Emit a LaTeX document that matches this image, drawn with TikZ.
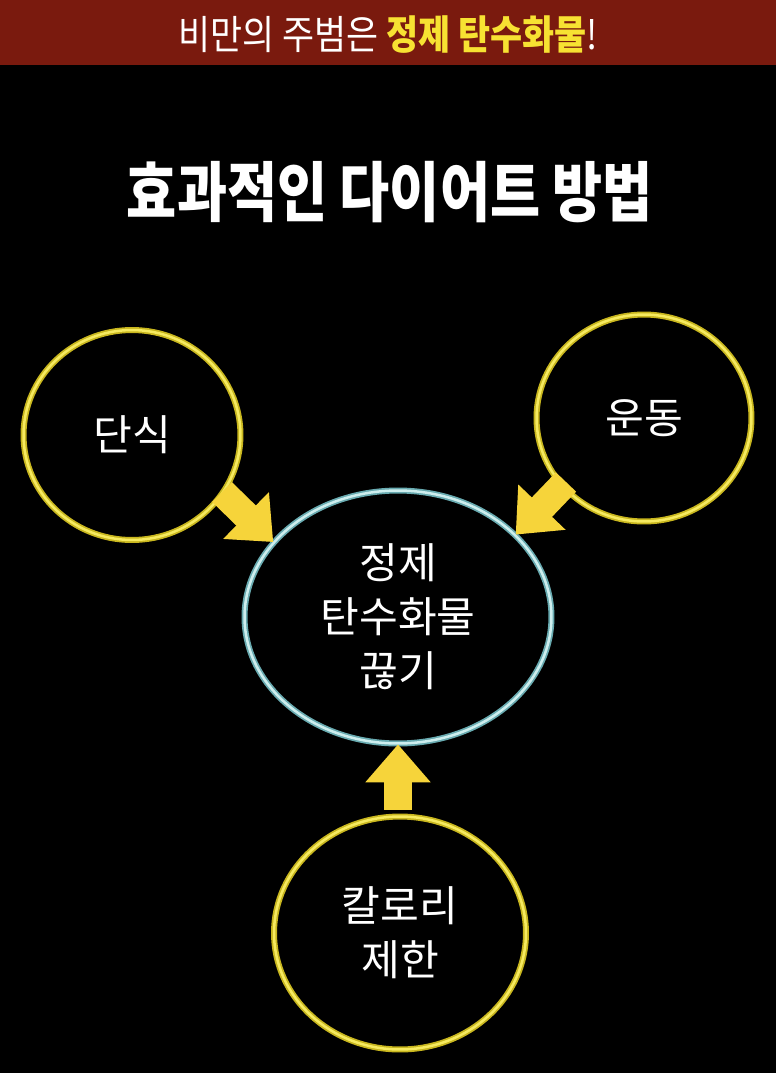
\documentclass[tikz,border=0pt]{standalone}
\usepackage{fontspec}
\setmainfont{Noto Sans CJK KR}
\usetikzlibrary{shapes.geometric, arrows.meta}
\definecolor{bannerred}{RGB}{122,26,14}
\definecolor{titleyellow}{RGB}{247,226,50}
\definecolor{ringyellow}{RGB}{200,182,30}
\definecolor{ringlight}{RGB}{246,234,96}
\definecolor{arrowyellow}{RGB}{246,212,58}
\definecolor{ringteal}{RGB}{104,170,176}
\definecolor{teallight}{RGB}{206,238,238}
\tikzstyle{way} = [ellipse, inner sep=0pt, draw=ringyellow, line width=0.035cm, double=ringlight, double distance=0.05cm, text=white, font=\fontsize{24}{30.7}\selectfont, align=center]
\tikzstyle{goal} = [ellipse, inner sep=0pt, draw=ringteal, line width=0.035cm, double=teallight, double distance=0.05cm, text=white, font=\fontsize{24}{30.7}\selectfont, align=center]
\tikzstyle{arrow} = [arrowyellow, line width=0.56cm, -{Triangle[width=1.26cm, length=0.76cm]}]
\begin{document}
\begin{tikzpicture}[x=0.02cm, y=-0.02cm]

% background and banner
\fill[black] (0,0) rectangle (776,1073);
\fill[bannerred] (0,0) rectangle (776,65);
\node (banner) at (388,35) [xscale=0.87] {\fontsize{22.8}{26}\selectfont\color{white}비만의 주범은 \textcolor{titleyellow}{\bfseries 정제 탄수화물}!};

\node (title) at (390,192) [text=white, yscale=1.2] {\fontsize{31}{36}\selectfont\bfseries 효과적인 다이어트 방법};

% Main goal
\node (center) [goal, minimum width=6.14cm, minimum height=5.06cm] at (398,617) {정제\\탄수화물\\끊기};

% Ways
\node (dansik) [way, minimum width=4.34cm, minimum height=4.2cm] at (132,435) {단식};
\node (undong) [way, minimum width=4.3cm, minimum height=4.14cm] at (644,418) {운동};
\node (kalori) [way, minimum width=5.04cm, minimum height=4.66cm] at (400,933) {칼로리\\제한};

\coordinate (dansikTail) at (222,492);
\coordinate (undongTail) at (566,482);

\draw[arrow] (dansikTail) -- (center.149);
\draw[arrow] (undongTail) -- (center.35);
\draw[arrow, shorten <=0.12cm] (kalori.north -| center.south) -- (center.south);

\end{tikzpicture}
\end{document}
